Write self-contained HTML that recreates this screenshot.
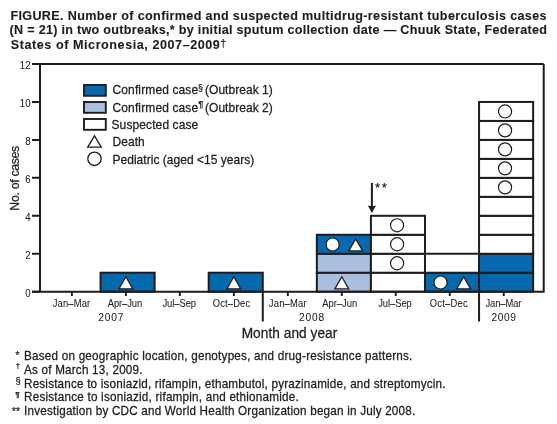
<!DOCTYPE html>
<html><head><meta charset="utf-8">
<style>
html,body{margin:0;padding:0;background:#fff;}
body{width:557px;height:424px;overflow:hidden;}
svg{display:block;will-change:transform;}
text{font-family:"Liberation Sans",sans-serif;fill:#201c1d;stroke:#201c1d;stroke-width:0.25px;}
.tt{stroke-width:0.1px;}
.xl,.yl,.yr{stroke-width:0.05px;}
.tt{font-weight:bold;font-size:12.6px;}
.yl{font-size:9.6px;}
.xl{font-size:9.4px;}
.yr{font-size:10.2px;}
.at{font-size:13.7px;}
.yat{font-size:12.3px;}
.lg{font-size:12px;}
.lsup{font-size:8.8px;}
.lsup2{font-size:9.6px;}
.fn{font-size:11.7px;}
.fm{font-size:10px;}
.fmd{font-size:7.6px;}
.fms{font-size:9.3px;}
.fmp{font-size:7.8px;font-weight:bold;}
.sup{font-size:8px;}
.tdag{font-size:10.8px;stroke-width:0.15px;}
.ast{font-size:12px;}
</style></head><body>
<svg width="557" height="424" viewBox="0 0 557 424">
<rect width="557" height="424" fill="#fff"/>
<g id="shapes">
<rect x="100.57" y="272.72" width="54.07" height="18.98" fill="#0669ae" stroke="#201c1d" stroke-width="2"/><rect x="208.71" y="272.72" width="54.07" height="18.98" fill="#0669ae" stroke="#201c1d" stroke-width="2"/><rect x="316.85" y="272.72" width="54.07" height="18.98" fill="#aabee0" stroke="#201c1d" stroke-width="2"/><rect x="316.85" y="253.75" width="54.07" height="18.97" fill="#aabee0" stroke="#201c1d" stroke-width="2"/><rect x="316.85" y="234.77" width="54.07" height="18.98" fill="#0669ae" stroke="#201c1d" stroke-width="2"/><rect x="370.92" y="272.72" width="54.07" height="18.98" fill="#fff" stroke="#201c1d" stroke-width="2"/><rect x="370.92" y="253.75" width="54.07" height="18.97" fill="#fff" stroke="#201c1d" stroke-width="2"/><rect x="370.92" y="234.77" width="54.07" height="18.98" fill="#fff" stroke="#201c1d" stroke-width="2"/><rect x="370.92" y="215.80" width="54.07" height="18.97" fill="#fff" stroke="#201c1d" stroke-width="2"/><rect x="424.99" y="272.72" width="54.07" height="18.98" fill="#0669ae" stroke="#201c1d" stroke-width="2"/><rect x="424.99" y="253.75" width="54.07" height="18.97" fill="#fff" stroke="#201c1d" stroke-width="2"/><rect x="479.06" y="272.72" width="54.07" height="18.98" fill="#0669ae" stroke="#201c1d" stroke-width="2"/><rect x="479.06" y="253.75" width="54.07" height="18.97" fill="#0669ae" stroke="#201c1d" stroke-width="2"/><rect x="479.06" y="234.77" width="54.07" height="18.98" fill="#fff" stroke="#201c1d" stroke-width="2"/><rect x="479.06" y="215.80" width="54.07" height="18.97" fill="#fff" stroke="#201c1d" stroke-width="2"/><rect x="479.06" y="196.82" width="54.07" height="18.97" fill="#fff" stroke="#201c1d" stroke-width="2"/><rect x="479.06" y="177.85" width="54.07" height="18.98" fill="#fff" stroke="#201c1d" stroke-width="2"/><rect x="479.06" y="158.87" width="54.07" height="18.97" fill="#fff" stroke="#201c1d" stroke-width="2"/><rect x="479.06" y="139.90" width="54.07" height="18.97" fill="#fff" stroke="#201c1d" stroke-width="2"/><rect x="479.06" y="120.92" width="54.07" height="18.97" fill="#fff" stroke="#201c1d" stroke-width="2"/><rect x="479.06" y="101.95" width="54.07" height="18.97" fill="#fff" stroke="#201c1d" stroke-width="2"/>
<path d="M125.88 276.79L132.83 288.83L118.93 288.83Z" fill="#fff" stroke="#201c1d" stroke-width="1.3"/><path d="M233.84 276.79L240.79 288.83L226.89 288.83Z" fill="#fff" stroke="#201c1d" stroke-width="1.3"/><path d="M341.80 276.79L348.75 288.83L334.85 288.83Z" fill="#fff" stroke="#201c1d" stroke-width="1.3"/><circle cx="332.60" cy="244.56" r="6.55" fill="#fff" stroke="#201c1d" stroke-width="1.2"/><path d="M355.70 238.84L362.65 250.88L348.75 250.88Z" fill="#fff" stroke="#201c1d" stroke-width="1.3"/><circle cx="397.08" cy="263.24" r="6.55" fill="#fff" stroke="#201c1d" stroke-width="1.2"/><circle cx="397.08" cy="244.26" r="6.55" fill="#fff" stroke="#201c1d" stroke-width="1.2"/><circle cx="397.08" cy="225.29" r="6.55" fill="#fff" stroke="#201c1d" stroke-width="1.2"/><circle cx="440.56" cy="282.51" r="6.55" fill="#fff" stroke="#201c1d" stroke-width="1.2"/><path d="M463.66 276.79L470.61 288.83L456.71 288.83Z" fill="#fff" stroke="#201c1d" stroke-width="1.3"/><circle cx="505.04" cy="187.34" r="6.55" fill="#fff" stroke="#201c1d" stroke-width="1.2"/><circle cx="505.04" cy="168.36" r="6.55" fill="#fff" stroke="#201c1d" stroke-width="1.2"/><circle cx="505.04" cy="149.39" r="6.55" fill="#fff" stroke="#201c1d" stroke-width="1.2"/><circle cx="505.04" cy="130.41" r="6.55" fill="#fff" stroke="#201c1d" stroke-width="1.2"/><circle cx="505.04" cy="111.44" r="6.55" fill="#fff" stroke="#201c1d" stroke-width="1.2"/>
<path d="M32 63.99999999999997H543.7 M40 63.99999999999997V291.7 M32 291.7H544.7 M543.7 63.99999999999997V291.7" fill="none" stroke="#201c1d" stroke-width="2"/>
<path d="M32 291.70H40M32 253.75H40M32 215.80H40M32 177.85H40M32 139.90H40M32 101.95H40M32 64.00H40" stroke="#201c1d" stroke-width="2" fill="none"/>
<path d="M71.90 291.7V296.0M125.88 291.7V296.0M179.86 291.7V296.0M233.84 291.7V296.0M287.82 291.7V296.0M341.80 291.7V296.0M395.78 291.7V296.0M449.76 291.7V296.0M503.74 291.7V296.0" stroke="#201c1d" stroke-width="1.9" fill="none"/>
<path d="M262.78 291.7V321.5 M479.06 291.7V321.5" stroke="#201c1d" stroke-width="2" fill="none"/>
<path d="M371.9 183V207" stroke="#201c1d" stroke-width="2" fill="none"/>
<path d="M367.8 205.4L371.9 206.3L376 205.4L371.9 212.9Z" fill="#201c1d"/>
<rect x="84" y="85.00" width="21.8" height="10.8" fill="#0669ae" stroke="#201c1d" stroke-width="1.9"/>
<rect x="84" y="102.00" width="21.8" height="10.8" fill="#aabee0" stroke="#201c1d" stroke-width="1.9"/>
<rect x="84" y="119.00" width="21.8" height="10.8" fill="#fff" stroke="#201c1d" stroke-width="1.9"/>
<path d="M94.5 135.8L101.3 147.1L87.7 147.1Z" fill="#fff" stroke="#201c1d" stroke-width="1.3"/>
<circle cx="94.5" cy="158.8" r="6.7" fill="#fff" stroke="#201c1d" stroke-width="1.3"/>
</g>
<g id="texts">
<text id="t1" class="tt" transform="translate(0,19.60) scale(1,1.03)" x="10.40" y="0" textLength="536.17" lengthAdjust="spacing">FIGURE. Number of confirmed and suspected multidrug-resistant tuberculosis cases</text>
<text id="t2" class="tt" transform="translate(0,34.30) scale(1,1.03)" x="9.60" y="0" textLength="537.29" lengthAdjust="spacing">(N = 21) in two outbreaks,* by initial sputum collection date — Chuuk State, Federated</text>
<text id="t3" class="tt" transform="translate(0,49.00) scale(1,1.03)" x="10.80" y="0" textLength="209.04" lengthAdjust="spacing">States of Micronesia, 2007–2009</text>
<text id="tdag" class="tdag" transform="translate(0,47.20) scale(1,1.0)" x="220.20" y="0">†</text>
<text id="fn1" class="fn" transform="translate(0,359.80) scale(1,1.1)" x="24.00" y="0" textLength="388.35" lengthAdjust="spacing">Based on geographic location, genotypes, and drug-resistance patterns.</text>
<text id="fm1" class="fm" transform="translate(0,359.20) scale(1,1.0)" x="19.50" y="0" text-anchor="end">*</text>
<text id="fn2" class="fn" transform="translate(0,373.70) scale(1,1.1)" x="24.00" y="0" textLength="118.54" lengthAdjust="spacing">As of March 13, 2009.</text>
<text id="fm2" class="fmd" transform="translate(0,368.30) scale(1,1.0)" x="19.90" y="0" text-anchor="end">†</text>
<text id="fn3" class="fn" transform="translate(0,387.50) scale(1,1.1)" x="24.00" y="0" textLength="421.47" lengthAdjust="spacing">Resistance to isoniazid, rifampin, ethambutol, pyrazinamide, and streptomycin.</text>
<text id="fm3" class="fms" transform="translate(0,384.10) scale(1,1.0)" x="20.70" y="0" text-anchor="end">§</text>
<text id="fn4" class="fn" transform="translate(0,401.40) scale(1,1.1)" x="24.00" y="0" textLength="274.77" lengthAdjust="spacing">Resistance to isoniazid, rifampin, and ethionamide.</text>
<text id="fm4" class="fmp" transform="translate(0,397.20) scale(1,1.0)" x="19.70" y="0" text-anchor="end">¶</text>
<text id="fn5" class="fn" transform="translate(0,414.90) scale(1,1.1)" x="24.00" y="0" textLength="391.25" lengthAdjust="spacing">Investigation by CDC and World Health Organization began in July 2008.</text>
<text id="fm5" class="fm" transform="translate(0,414.70) scale(1,1.0)" x="19.90" y="0" text-anchor="end" textLength="8.00" lengthAdjust="spacing">**</text>
<text id="lg1a" class="lg" transform="translate(0,94.00) scale(1,1.08)" x="112.50" y="0" textLength="85.65" lengthAdjust="spacing">Confirmed case</text>
<text id="lg1s" class="lsup" transform="translate(0,91.00) scale(1,1.0)" x="198.00" y="0">§</text>
<text id="lg1b" class="lg" transform="translate(0,94.00) scale(1,1.08)" x="205.00" y="0" textLength="67.76" lengthAdjust="spacing">(Outbreak 1)</text>
<text id="lg2a" class="lg" transform="translate(0,111.50) scale(1,1.08)" x="112.50" y="0" textLength="85.65" lengthAdjust="spacing">Confirmed case</text>
<text id="lg2s" class="lsup2" transform="translate(0,107.00) scale(1,1.0)" x="198.20" y="0">¶</text>
<text id="lg2b" class="lg" transform="translate(0,111.50) scale(1,1.08)" x="205.00" y="0" textLength="67.76" lengthAdjust="spacing">(Outbreak 2)</text>
<text id="lg3" class="lg" transform="translate(0,128.50) scale(1,1.08)" x="111.50" y="0" textLength="86.79" lengthAdjust="spacing">Suspected case</text>
<text id="lg4" class="lg" transform="translate(0,146.00) scale(1,1.08)" x="112.50" y="0" textLength="32.23" lengthAdjust="spacing">Death</text>
<text id="lg5" class="lg" transform="translate(0,163.50) scale(1,1.08)" x="112.50" y="0" textLength="141.68" lengthAdjust="spacing">Pediatric (aged &lt;15 years)</text>
<text id="xl0" class="xl" transform="translate(0,307.00) scale(1,1.07)" x="71.50" y="0" text-anchor="middle" textLength="37.51" lengthAdjust="spacing">Jan–Mar</text>
<text id="xl1" class="xl" transform="translate(0,307.00) scale(1,1.07)" x="125.00" y="0" text-anchor="middle" textLength="34.45" lengthAdjust="spacing">Apr–Jun</text>
<text id="xl2" class="xl" transform="translate(0,307.00) scale(1,1.07)" x="179.25" y="0" text-anchor="middle" textLength="33.54" lengthAdjust="spacing">Jul–Sep</text>
<text id="xl3" class="xl" transform="translate(0,307.00) scale(1,1.07)" x="231.50" y="0" text-anchor="middle" textLength="37.31" lengthAdjust="spacing">Oct–Dec</text>
<text id="xl4" class="xl" transform="translate(0,307.00) scale(1,1.07)" x="287.75" y="0" text-anchor="middle" textLength="37.91" lengthAdjust="spacing">Jan–Mar</text>
<text id="xl5" class="xl" transform="translate(0,307.00) scale(1,1.07)" x="339.75" y="0" text-anchor="middle" textLength="34.85" lengthAdjust="spacing">Apr–Jun</text>
<text id="xl6" class="xl" transform="translate(0,307.00) scale(1,1.07)" x="395.00" y="0" text-anchor="middle" textLength="33.54" lengthAdjust="spacing">Jul–Sep</text>
<text id="xl7" class="xl" transform="translate(0,307.00) scale(1,1.07)" x="448.75" y="0" text-anchor="middle" textLength="37.91" lengthAdjust="spacing">Oct–Dec</text>
<text id="xl8" class="xl" transform="translate(0,307.00) scale(1,1.07)" x="503.50" y="0" text-anchor="middle" textLength="35.91" lengthAdjust="spacing">Jan–Mar</text>
<text id="yr7" class="yr" transform="translate(0,320.80) scale(1,1.1)" x="110.75" y="0" text-anchor="middle" textLength="25.19" lengthAdjust="spacing">2007</text>
<text id="yr8" class="yr" transform="translate(0,320.80) scale(1,1.1)" x="311.50" y="0" text-anchor="middle" textLength="25.19" lengthAdjust="spacing">2008</text>
<text id="yr9" class="yr" transform="translate(0,320.80) scale(1,1.1)" x="503.75" y="0" text-anchor="middle" textLength="24.39" lengthAdjust="spacing">2009</text>
<text id="month" class="at" transform="translate(0,337.90) scale(1,1.04)" x="289.50" y="0" text-anchor="middle" textLength="95.66" lengthAdjust="spacing">Month and year</text>
<text id="ylab" class="yat" transform="rotate(-90) translate(0,19.20) scale(1,1.05)" x="-178.20" y="0" text-anchor="middle" textLength="64.88" lengthAdjust="spacing">No. of cases</text>
<text id="yl0" class="yl" transform="translate(0,296.70) scale(1,1.1)" x="30.50" y="0" text-anchor="end">0</text>
<text id="yl2" class="yl" transform="translate(0,258.75) scale(1,1.1)" x="30.50" y="0" text-anchor="end">2</text>
<text id="yl4" class="yl" transform="translate(0,220.80) scale(1,1.1)" x="30.50" y="0" text-anchor="end">4</text>
<text id="yl6" class="yl" transform="translate(0,182.85) scale(1,1.1)" x="30.50" y="0" text-anchor="end">6</text>
<text id="yl8" class="yl" transform="translate(0,144.90) scale(1,1.1)" x="30.50" y="0" text-anchor="end">8</text>
<text id="yl10" class="yl" transform="translate(0,106.95) scale(1,1.1)" x="30.50" y="0" text-anchor="end" textLength="10.69" lengthAdjust="spacing">10</text>
<text id="yl12" class="yl" transform="translate(0,69.00) scale(1,1.1)" x="30.50" y="0" text-anchor="end" textLength="10.69" lengthAdjust="spacing">12</text>
<text id="arr" class="ast" transform="translate(0,191.50) scale(1,1.0)" x="375.30" y="0" textLength="11.34" lengthAdjust="spacing">**</text>
</g>
</svg>
</body></html>
